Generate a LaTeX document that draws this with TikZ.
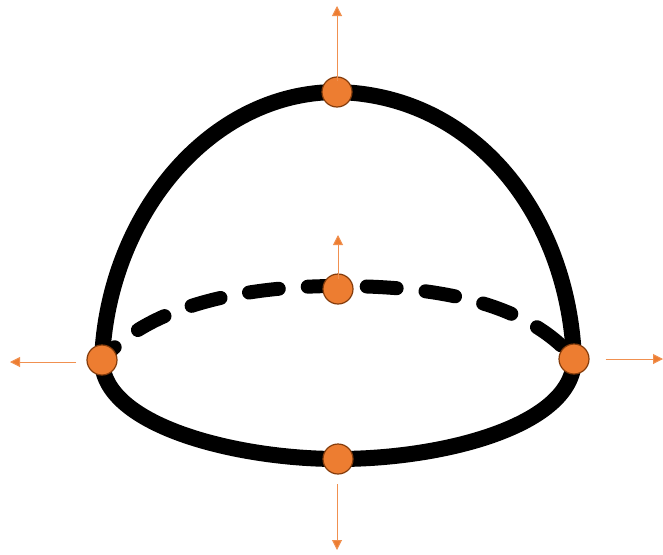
\documentclass[tikz,border=0pt]{standalone}
\usetikzlibrary{arrows.meta}
\definecolor{dotorange}{HTML}{ED7D31}
\definecolor{dotedge}{HTML}{843C0C}
\tikzset{
  dome/.style={line width=16, black, line cap=round},
  hiddenrim/.style={line width=14, black, line cap=round, dash pattern=on 30 off 29, dash phase=12},
  dotnode/.style={circle, fill=dotorange, draw=dotedge, line width=1.2, minimum size=30, inner sep=0},
  pull/.style={draw=dotorange!85!white, line width=1, -{Triangle[length=10,width=10,fill=dotorange]}}
}
\begin{document}
\begin{tikzpicture}[x=1pt,y=-1pt]
\useasboundingbox (0,0) rectangle (663,554);
\coordinate (L) at (102,360);
\coordinate (T) at (337,92);
\coordinate (R) at (574,359);
\coordinate (C) at (338,289);
\coordinate (B) at (338,459);
% hidden rim
\draw[hiddenrim] (L) .. controls (150,305) and (245,286) .. (338,286)
   .. controls (430,286) and (525,300) .. (R);
% outline
\draw[dome] (L) .. controls (108,215) and (210,92) .. (T)
   .. controls (475,95) and (568,215) .. (R);
\draw[dome] (L) .. controls (102,425) and (235,459) .. (B)
   .. controls (445,459) and (574,425) .. (R);
% dots
\node[dotnode] (top) at (T) {};
\node[dotnode] (mid) at (C) {};
\node[dotnode] (left) at (L) {};
\node[dotnode] (right) at (R) {};
\node[dotnode] (bot) at (B) {};
% arrows
\coordinate (topEnd) at (337,6);
\coordinate (midEnd) at (338,235);
\coordinate (leftEnd) at (10,362);
\coordinate (rightEnd) at (663,359);
\coordinate (botEnd) at (337,550);
\coordinate (leftStart) at (76,362);
\coordinate (botStart) at (337,484);
\draw[pull] ([yshift=-5]top.north) -- (topEnd);
\draw[pull] ([yshift=-6]mid.north) -- (midEnd);
\draw[pull] (leftStart) -- (leftEnd);
\draw[pull] ([xshift=16]right.east) -- (rightEnd);
\draw[pull] (botStart) -- (botEnd);
\end{tikzpicture}
\end{document}
